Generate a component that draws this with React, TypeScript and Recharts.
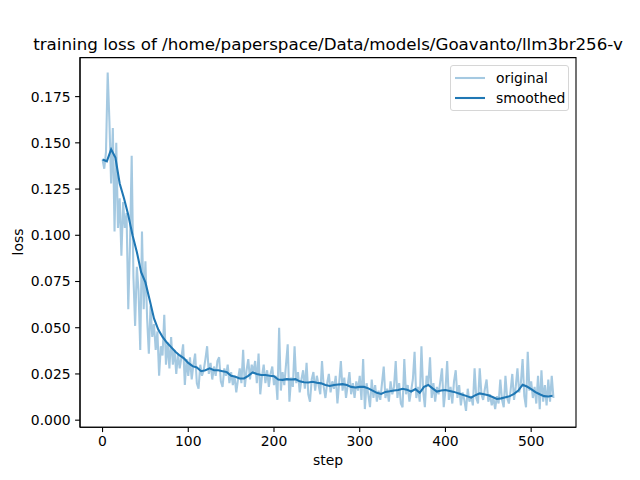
import React from "react";
import { LineChart, Line, XAxis, YAxis, ReferenceArea } from "recharts";

// x positions of the original curve (every second step)
const originalLoss: number[] = [
  0.141, 0.136, 0.145, 0.188, 0.162, 0.128, 0.158, 0.102, 0.150, 0.104,
  0.120, 0.089, 0.118, 0.104, 0.112, 0.060, 0.095, 0.143, 0.078, 0.051,
  0.083, 0.070, 0.038, 0.102, 0.060, 0.086, 0.055, 0.036, 0.062, 0.045,
  0.052, 0.038, 0.048, 0.024, 0.040, 0.035, 0.057, 0.030, 0.042, 0.028,
  0.045, 0.030, 0.038, 0.025, 0.036, 0.028, 0.034, 0.041, 0.019, 0.033,
  0.024, 0.034, 0.022, 0.030, 0.036, 0.020, 0.017, 0.030, 0.024, 0.027,
  0.033, 0.040, 0.025, 0.031, 0.022, 0.029, 0.024, 0.032, 0.034, 0.021,
  0.018, 0.028, 0.024, 0.030, 0.020, 0.026, 0.019, 0.024, 0.015, 0.022,
  0.028, 0.020, 0.038, 0.018, 0.027, 0.033, 0.022, 0.030, 0.026, 0.032,
  0.020, 0.036, 0.014, 0.024, 0.030, 0.020, 0.027, 0.018, 0.025, 0.029,
  0.019, 0.024, 0.011, 0.050, 0.016, 0.026, 0.019, 0.030, 0.041, 0.010,
  0.023, 0.018, 0.040, 0.020, 0.026, 0.015, 0.022, 0.027, 0.017, 0.031,
  0.014, 0.010, 0.022, 0.026, 0.016, 0.024, 0.019, 0.014, 0.032, 0.018,
  0.012, 0.020, 0.025, 0.015, 0.021, 0.017, 0.024, 0.009, 0.020, 0.032,
  0.016, 0.023, 0.012, 0.019, 0.026, 0.014, 0.020, 0.012, 0.021, 0.016,
  0.024, 0.011, 0.033, 0.006, 0.020, 0.014, 0.007, 0.022, 0.012, 0.019,
  0.010, 0.016, 0.011, 0.020, 0.029, 0.012, 0.017, 0.010, 0.021, 0.014,
  0.018, 0.032, 0.012, 0.020, 0.009, 0.007, 0.033, 0.014, 0.019, 0.010,
  0.016, 0.022, 0.037, 0.012, 0.018, 0.010, 0.040, 0.016, 0.007, 0.024,
  0.019, 0.034, 0.012, 0.020, 0.010, 0.018, 0.014, 0.021, 0.028, 0.007,
  0.016, 0.032, 0.011, 0.018, 0.009, 0.021, 0.027, 0.012, 0.019, 0.008,
  0.015, 0.011, 0.005, 0.017, 0.010, 0.013, 0.008, 0.028, 0.012, 0.009,
  0.028, 0.014, 0.011, 0.017, 0.022, 0.010, 0.014, 0.008, 0.012, 0.006,
  0.013, 0.009, 0.022, 0.011, 0.007, 0.024, 0.012, 0.009, 0.016, 0.025,
  0.011, 0.018, 0.028, 0.015, 0.020, 0.033, 0.013, 0.007, 0.037, 0.016,
  0.021, 0.012, 0.018, 0.009, 0.024, 0.006, 0.027, 0.010, 0.019, 0.008,
  0.022, 0.010, 0.024, 0.012,
];
const originalStride = 2;

// smoothed curve, every fifth step
const smoothedLoss: number[] = [
  0.141, 0.140, 0.1465, 0.142, 0.128, 0.120, 0.111, 0.100, 0.091, 0.080,
  0.0745, 0.065, 0.055, 0.049, 0.045, 0.042, 0.0395, 0.037, 0.035, 0.0334,
  0.031, 0.0292, 0.0285, 0.0265, 0.027, 0.028, 0.027, 0.027, 0.0265, 0.026,
  0.024, 0.0235, 0.0225, 0.0226, 0.024, 0.0258, 0.025, 0.0244, 0.0244, 0.024,
  0.0238, 0.022, 0.0218, 0.0222, 0.022, 0.0222, 0.021, 0.0205, 0.0204, 0.0208,
  0.0202, 0.0199, 0.019, 0.0185, 0.019, 0.0193, 0.0195, 0.019, 0.018, 0.0177,
  0.018, 0.018, 0.0172, 0.016, 0.0148, 0.0142, 0.0153, 0.0156, 0.016, 0.0163,
  0.017, 0.0165, 0.0155, 0.0168, 0.0148, 0.018, 0.019, 0.0172, 0.0155, 0.016,
  0.0163, 0.0158, 0.0153, 0.0145, 0.0138, 0.013, 0.0122, 0.0135, 0.0145, 0.014,
  0.0135, 0.0125, 0.0115, 0.0118, 0.0124, 0.013, 0.0142, 0.016, 0.0192, 0.0182,
  0.0168, 0.0152, 0.014, 0.013, 0.0128, 0.0132,
];
const smoothedStride = 5;

const xTicks = [0, 100, 200, 300, 400, 500];
const yTicks = [0, 0.025, 0.05, 0.075, 0.1, 0.125, 0.15, 0.175];

const titleText = "training loss of /home/paperspace/Data/models/Goavanto/llm3br256-v";
const xLabel = "step";
const yLabel = "loss";
const legendItems = [
  { name: "original", color: "#1f77b4", opacity: 0.4 },
  { name: "smoothed", color: "#1f77b4", opacity: 1 },
];

const originalData = originalLoss.map((v, i) => ({ step: i * originalStride, loss: v }));
const smoothedData = smoothedLoss.map((v, i) => ({ step: i * smoothedStride, loss: v }));

const X_DOMAIN: [number, number] = [-26.3, 552.3];
const Y_DOMAIN: [number, number] = [-0.0038, 0.1961];

const FONT = "'DejaVu Sans', sans-serif";
const tickStyle = { fontFamily: FONT, fontSize: 13.9, fill: "#000" };

export default function App() {
  return (
    <div style={{ position: "absolute", left: 0, top: 0, width: 640, height: 480, background: "#fff", fontFamily: FONT }}>
      <LineChart
        width={640}
        height={480}
        margin={{ top: 57.6, right: 64, bottom: 12.8, left: 0 }}
      >
        <XAxis
          type="number"
          dataKey="step"
          domain={X_DOMAIN}
          ticks={xTicks}
          allowDataOverflow
          height={40}
          tickSize={4.9}
          tickMargin={4.5}
          tick={tickStyle}
          axisLine={{ stroke: "#000", strokeWidth: 1.1 }}
          tickLine={{ stroke: "#000", strokeWidth: 1.1 }}
        />
        <YAxis
          type="number"
          domain={Y_DOMAIN}
          ticks={yTicks}
          allowDataOverflow
          width={80}
          tickSize={4.9}
          tickMargin={4.5}
          tick={tickStyle}
          tickFormatter={(v: number) => v.toFixed(3)}
          axisLine={{ stroke: "#000", strokeWidth: 1.1 }}
          tickLine={{ stroke: "#000", strokeWidth: 1.1 }}
        />
        <ReferenceArea
          x1={X_DOMAIN[0]}
          x2={X_DOMAIN[1]}
          y1={Y_DOMAIN[0]}
          y2={Y_DOMAIN[1]}
          fill="none"
          fillOpacity={0}
          stroke="#000"
          strokeWidth={1.1}
          ifOverflow="visible"
        />
        <Line
          data={originalData}
          dataKey="loss"
          type="linear"
          stroke="#1f77b4"
          strokeOpacity={0.4}
          strokeWidth={2.08}
          dot={false}
          activeDot={false}
          isAnimationActive={false}
        />
        <Line
          data={smoothedData}
          dataKey="loss"
          type="linear"
          stroke="#1f77b4"
          strokeWidth={2.08}
          dot={false}
          activeDot={false}
          isAnimationActive={false}
        />
      </LineChart>

      <div style={{ position: "absolute", left: 0, width: 656, top: 34, lineHeight: "20px", fontSize: 16.7, textAlign: "center", whiteSpace: "nowrap", color: "#000" }}>
        {titleText}
      </div>
      <div style={{ position: "absolute", left: 228, width: 200, top: 452, lineHeight: "16px", fontSize: 13.9, textAlign: "center", color: "#000" }}>
        {xLabel}
      </div>
      <div style={{ position: "absolute", left: -82, width: 200, top: 234, lineHeight: "16px", fontSize: 13.9, textAlign: "center", color: "#000", transform: "rotate(-90deg)" }}>
        {yLabel}
      </div>

      <div style={{ position: "absolute", left: 450, top: 65, width: 117, height: 44, border: "1px solid #d6d6d6", borderRadius: 3, background: "rgba(255,255,255,0.8)" }}>
        {legendItems.map((it, i) => (
          <div key={it.name} style={{ position: "absolute", left: 4, top: 3 + i * 20, height: 18, display: "flex", alignItems: "center" }}>
            <svg width={30} height={4} style={{ display: "block" }}>
              <line x1={0} y1={2} x2={30} y2={2} stroke={it.color} strokeOpacity={it.opacity} strokeWidth={2.08} />
            </svg>
            <span style={{ marginLeft: 11, fontSize: 13.9, lineHeight: "18px", color: "#000" }}>{it.name}</span>
          </div>
        ))}
      </div>
    </div>
  );
}
